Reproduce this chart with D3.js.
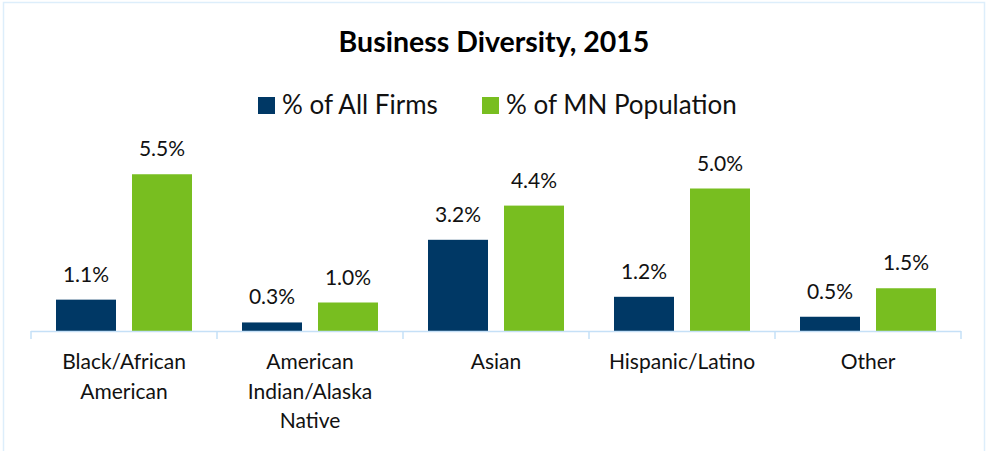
<!DOCTYPE html>
<html>
<head>
<meta charset="utf-8">
<script src="https://cdn.jsdelivr.net/npm/d3@7/dist/d3.min.js"></script>
<style>
  html, body { margin: 0; padding: 0; background: #fff; }
  svg { display: block; font-family: Lato, "Open Sans", sans-serif; }
</style>
</head>
<body>
<svg width="988" height="451"></svg>
<script>
// chart data
const categories = [ "Black/African American", "American Indian/Alaska Native", "Asian", "Hispanic/Latino", "Other" ];
const seriesNames = [ "% of All Firms", "% of MN Population" ];
const allFirms = [ 1.1, 0.3, 3.2, 1.2, 0.5 ];
const mnPopulation = [ 5.5, 1.0, 4.4, 5.0, 1.5 ];
const colors = [ "#003865", "#78be20" ];

let svg = d3.select( "svg" )
	,W = +svg.attr( "width" )
	,H = +svg.attr( "height" )
	,margin = { top: 160, left: 31, right: 27, base: 331 };

// frame
svg.append( "rect" )
	.attr( "x", 3.5 ).attr( "y", 2.5 )
	.attr( "width", W - 7 ).attr( "height", H + 10 )
	.attr( "fill", "none" )
	.attr( "stroke", "#ddeefb" )
	.attr( "stroke-width", 1.5 );

svg.append( "text" )
	.attr( "x", W / 2 ).attr( "y", 52 )
	.attr( "text-anchor", "middle" )
	.style( "font-size", "28.5px" )
	.style( "font-weight", "bold" )
	.text( "Business Diversity, 2015" );

let x0 = d3.scaleBand()
	.domain( categories )
	.range( [ margin.left, W - margin.right ] )
	.paddingInner( 0 ).paddingOuter( 0 );

// 2 bars of 60px, 16px gap, 25px sides inside each 186px band
let x1 = d3.scaleBand()
	.domain( [ 0, 1 ] )
	.range( [ 0, x0.bandwidth() ] )
	.paddingInner( 16 / 76 )
	.paddingOuter( 25 / 76 );

let y = d3.scaleLinear().domain( [ 0, 6 ] ).range( [ margin.base, margin.top ] );

let rows = categories.map( ( c, i ) => ( { cat: c, vals: [ allFirms[i], mnPopulation[i] ] } ) );

let groups = svg.selectAll( ".grp" )
	.data( rows )
	.enter().append( "g" )
	.attr( "class", "grp" )
	.attr( "transform", d => "translate(" + x0( d.cat ) + ",0)" );

groups.selectAll( "rect" )
	.data( d => d.vals.map( ( v, k ) => ( { k, v } ) ) )
	.enter().append( "rect" )
	.attr( "x", d => x1( d.k ) )
	.attr( "width", x1.bandwidth() )
	.attr( "y", d => y( d.v ) )
	.attr( "height", d => y( 0 ) - y( d.v ) )
	.attr( "fill", d => colors[ d.k ] );

groups.selectAll( ".val" )
	.data( d => d.vals.map( ( v, k ) => ( { k, v } ) ) )
	.enter().append( "text" )
	.attr( "class", "val" )
	.attr( "x", d => x1( d.k ) + x1.bandwidth() / 2 )
	.attr( "y", d => y( d.v ) - 18 )
	.attr( "text-anchor", "middle" )
	.style( "font-size", "21px" )
	.attr( "fill", "#111" )
	.text( d => d.v.toFixed( 1 ) + "%" );

// x axis: baseline with ticks at category edges
let axis = svg.append( "g" ).attr( "class", "axis" );
axis.append( "line" )
	.attr( "x1", x0.range()[0] ).attr( "x2", x0.range()[1] )
	.attr( "y1", margin.base + 0.5 ).attr( "y2", margin.base + 0.5 )
	.attr( "stroke", "#c5e0f7" ).attr( "stroke-width", 1.5 );
axis.selectAll( ".tk" )
	.data( categories.map( c => x0( c ) ).concat( [ x0.range()[1] ] ) )
	.enter().append( "line" )
	.attr( "x1", d => d ).attr( "x2", d => d )
	.attr( "y1", margin.base ).attr( "y2", margin.base + 8 )
	.attr( "stroke", "#c5e0f7" ).attr( "stroke-width", 1.5 );

let labels = axis.selectAll( ".lbl" )
	.data( categories )
	.enter().append( "text" )
	.attr( "class", "lbl" )
	.attr( "text-anchor", "middle" )
	.attr( "x", d => x0( d ) + x0.bandwidth() / 2 )
	.attr( "y", 369 )
	.style( "font-size", "21px" )
	.attr( "fill", "#111" );

labels.each( function ( d ) {
	let el = d3.select( this ), cx = el.attr( "x" );
	let words = d.split( " " ), lines = [], cur = [];
	words.forEach( w => {
		let tryLine = cur.concat( [ w ] ).join( " " );
		el.text( tryLine );
		if ( cur.length && this.getComputedTextLength() > 160 ) {
			lines.push( cur.join( " " ) );
			cur = [ w ];
		} else cur.push( w );
	});
	lines.push( cur.join( " " ) );
	el.text( null );
	lines.forEach( ( l, i ) => {
		el.append( "tspan" ).attr( "x", cx ).attr( "dy", i ? 29.5 : 0 ).text( l );
	});
});

// legend
let legend = svg.append( "g" ).attr( "class", "legend" );
let lx = [ 258, 482 ];
seriesNames.forEach( ( s, i ) => {
	legend.append( "rect" )
		.attr( "x", lx[i] ).attr( "y", 97 )
		.attr( "width", 17 ).attr( "height", 17 )
		.attr( "fill", colors[i] );
	legend.append( "text" )
		.attr( "x", lx[i] + 24 ).attr( "y", 114 )
		.style( "font-size", "26px" )
		.attr( "fill", "#111" )
		.text( s );
});
</script>
</body>
</html>
